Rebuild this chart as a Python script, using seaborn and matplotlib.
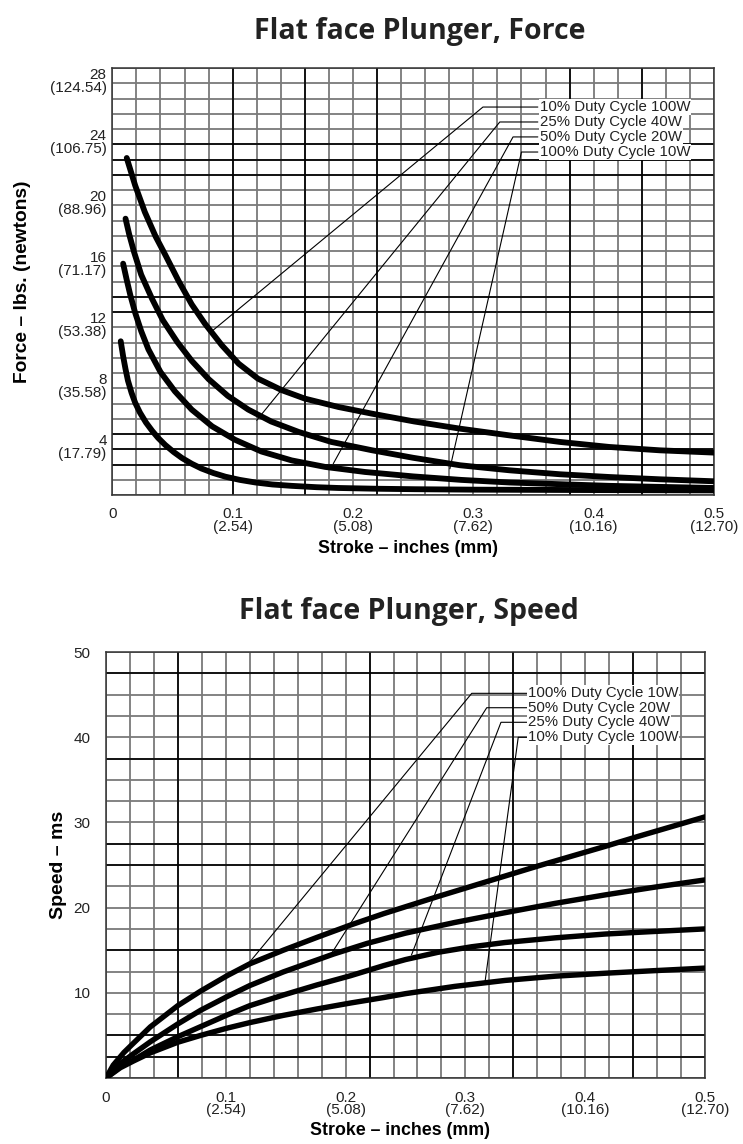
import pandas as pd
import seaborn as sns
import matplotlib.pyplot as plt
from matplotlib.ticker import MultipleLocator
from matplotlib.transforms import ScaledTranslation

sns.set_theme(style="white")
plt.rcParams["font.family"] = ["Liberation Sans", "DejaVu Sans"]

# --- Force chart data (stroke in inches, force in lbs) ---
force_labels = ["10% Duty Cycle 100W", "25% Duty Cycle 40W",
                "50% Duty Cycle 20W", "100% Duty Cycle 10W"]
force_x_100w = [0.012, 0.019, 0.027, 0.036, 0.044, 0.055, 0.066, 0.077, 0.091, 0.105,
                0.121, 0.141, 0.160, 0.188, 0.216, 0.251, 0.289, 0.330, 0.372, 0.413,
                0.455, 0.500]
force_y_100w = [22.1, 20.3, 18.56, 16.95, 15.75, 14.05, 12.5, 11.23, 9.82, 8.61,
                7.63, 6.87, 6.32, 5.77, 5.33, 4.82, 4.35, 3.91, 3.48, 3.15,
                2.93, 2.78]
force_x_40w = [0.011, 0.014, 0.018, 0.024, 0.033, 0.042, 0.054, 0.066, 0.080, 0.096,
               0.113, 0.132, 0.155, 0.182, 0.216, 0.250, 0.289, 0.330, 0.372, 0.413,
               0.455, 0.500]
force_y_40w = [18.12, 17.1, 15.95, 14.45, 12.87, 11.46, 10.03, 8.8, 7.6, 6.5,
               5.6, 4.82, 4.13, 3.48, 2.93, 2.44, 1.95, 1.62, 1.36, 1.18,
               1.03, 0.90]
force_x_20w = [0.009, 0.012, 0.015, 0.019, 0.024, 0.030, 0.040, 0.052, 0.066, 0.083,
               0.102, 0.124, 0.149, 0.177, 0.210, 0.250, 0.290, 0.330, 0.413, 0.500]
force_y_20w = [15.17, 14.1, 13.1, 11.95, 10.75, 9.55, 8.07, 6.8, 5.6, 4.5,
               3.62, 2.85, 2.27, 1.84, 1.51, 1.22, 0.99, 0.82, 0.6, 0.46]
force_x_10w = [0.007, 0.009, 0.011, 0.013, 0.016, 0.019, 0.023, 0.028, 0.033, 0.038,
               0.044, 0.051, 0.058, 0.066, 0.074, 0.084, 0.094, 0.106, 0.119, 0.133,
               0.149, 0.170, 0.188, 0.220, 0.251, 0.300, 0.413, 0.500]
force_y_10w = [10.08, 9.1, 8.25, 7.5, 6.7, 6.05, 5.4, 4.75, 4.22, 3.75,
               3.28, 2.82, 2.42, 2.05, 1.74, 1.44, 1.2, 0.99, 0.82, 0.69,
               0.6, 0.51, 0.46, 0.41, 0.38, 0.35, 0.32, 0.30]

# leader lines: label end -> elbow -> point on the chart
force_leader_x = [[0.3536, 0.308, 0.0826], [0.3536, 0.322, 0.120],
                  [0.3536, 0.333, 0.1836], [0.3536, 0.340, 0.2805]]
force_leader_y = [[25.44, 25.44, 10.73], [24.46, 24.46, 4.90],
                  [23.48, 23.48, 2.05], [22.49, 22.49, 1.72]]
force_label_x = 0.3552

# --- Speed chart data (stroke in inches, speed in ms) ---
speed_labels = ["100% Duty Cycle 10W", "50% Duty Cycle 20W",
                "25% Duty Cycle 40W", "10% Duty Cycle 100W"]
speed_x_10w = [0.0, 0.006, 0.015, 0.023, 0.037, 0.060, 0.079, 0.101, 0.120, 0.148,
               0.176, 0.204, 0.232, 0.250, 0.277, 0.305, 0.333, 0.361, 0.389, 0.417,
               0.444, 0.472, 0.500]
speed_y_10w = [0.0, 1.5, 3.0, 4.1, 6.0, 8.5, 10.2, 12.0, 13.4, 15.0,
               16.5, 17.95, 19.3, 20.1, 21.3, 22.5, 23.7, 24.9, 26.05, 27.2,
               28.35, 29.5, 30.65]
speed_x_20w = [0.0, 0.009, 0.023, 0.037, 0.060, 0.079, 0.101, 0.120, 0.148, 0.176,
               0.190, 0.218, 0.250, 0.291, 0.333, 0.375, 0.417, 0.458, 0.500]
speed_y_20w = [0.0, 1.4, 2.85, 4.25, 6.35, 7.95, 9.55, 10.85, 12.45, 13.85,
               14.55, 15.8, 17.0, 18.25, 19.4, 20.5, 21.5, 22.4, 23.25]
speed_x_40w = [0.0, 0.012, 0.023, 0.037, 0.060, 0.079, 0.101, 0.120, 0.148, 0.176,
               0.204, 0.232, 0.250, 0.277, 0.305, 0.333, 0.375, 0.417, 0.458, 0.500]
speed_y_40w = [0.0, 1.33, 2.11, 3.29, 4.85, 6.03, 7.39, 8.49, 9.74, 10.92,
               12.0, 13.2, 13.9, 14.75, 15.4, 15.9, 16.45, 16.9, 17.2, 17.5]
speed_x_100w = [0.0, 0.012, 0.023, 0.037, 0.060, 0.079, 0.101, 0.120, 0.148, 0.176,
                0.204, 0.232, 0.250, 0.291, 0.333, 0.375, 0.417, 0.458, 0.500]
speed_y_100w = [0.0, 1.21, 2.0, 2.95, 4.2, 5.0, 5.85, 6.5, 7.35, 8.1,
                8.8, 9.45, 9.9, 10.75, 11.45, 11.95, 12.3, 12.6, 12.9]

speed_leader_x = [[0.352, 0.3053, 0.1202], [0.352, 0.3178, 0.1884],
                  [0.352, 0.3297, 0.255], [0.352, 0.3441, 0.3164]]
speed_leader_y = [[45.15, 45.15, 13.65], [43.46, 43.46, 14.64],
                  [41.75, 41.75, 14.44], [39.99, 39.99, 11.3]]
speed_label_x = 0.3523

# --- Axis ticks ---
stroke_ticks = [0, 0.1, 0.2, 0.3, 0.4, 0.5]
stroke_ticklabels = ["0", "0.1\n(2.54)", "0.2\n(5.08)", "0.3\n(7.62)",
                     "0.4\n(10.16)", "0.5\n(12.70)"]
force_ticks = [4, 8, 12, 16, 20, 24, 28]
force_ticklabels = ["4\n(17.79)", "8\n(35.58)", "12\n(53.38)", "16\n(71.17)",
                    "20\n(88.96)", "24\n(106.75)", "28\n(124.54)"]
speed_ticks = [10, 20, 30, 40, 50]

# heavier ruling lines of the chart paper
force_heavy_x = [0.10, 0.16, 0.22, 0.38, 0.44]
force_heavy_y = [2, 3, 4, 12, 13, 21, 22, 23]
speed_heavy_x = [0.06, 0.22, 0.34, 0.44]
speed_heavy_y = [2.5, 5, 15, 25, 27.5, 37.5, 47.5]

force_df = pd.concat([
    pd.DataFrame({"stroke": force_x_100w, "value": force_y_100w, "series": force_labels[0]}),
    pd.DataFrame({"stroke": force_x_40w, "value": force_y_40w, "series": force_labels[1]}),
    pd.DataFrame({"stroke": force_x_20w, "value": force_y_20w, "series": force_labels[2]}),
    pd.DataFrame({"stroke": force_x_10w, "value": force_y_10w, "series": force_labels[3]}),
])
speed_df = pd.concat([
    pd.DataFrame({"stroke": speed_x_10w, "value": speed_y_10w, "series": speed_labels[0]}),
    pd.DataFrame({"stroke": speed_x_20w, "value": speed_y_20w, "series": speed_labels[1]}),
    pd.DataFrame({"stroke": speed_x_40w, "value": speed_y_40w, "series": speed_labels[2]}),
    pd.DataFrame({"stroke": speed_x_100w, "value": speed_y_100w, "series": speed_labels[3]}),
])

W, H = 743, 1144
fig = plt.figure(figsize=(W / 100, H / 100), dpi=100)
ax1 = fig.add_axes([112.3 / W, 1 - 495 / H, 601.7 / W, 427 / H])
ax2 = fig.add_axes([106 / W, 1 - 1078 / H, 599 / W, 426 / H])

title_font = dict(family=["Open Sans", "DejaVu Sans"], fontsize=20.5, fontweight="bold", color="#222222")
xlabel_font = dict(fontsize=12.8, fontweight="bold", color="black")


def style_axes(ax, ylim, ystep, heavy_x, heavy_y):
    ax.set_xlim(0, 0.5)
    ax.set_ylim(0, ylim)
    ax.xaxis.set_minor_locator(MultipleLocator(0.02))
    ax.yaxis.set_minor_locator(MultipleLocator(ystep))
    ax.grid(which="both", color="#7a7a7a", linewidth=1.3, zorder=0)
    ax.set_axisbelow(True)
    for xv in heavy_x:
        ax.axvline(xv, color="black", linewidth=1.2, zorder=1)
    for yv in heavy_y:
        ax.axhline(yv, color="black", linewidth=1.2, zorder=1)
    for s in ax.spines.values():
        s.set_color("#333333")
        s.set_linewidth(1.1)
    ax.tick_params(which="both", length=0, labelsize=11, colors="#222222")
    ax.set_xticks(stroke_ticks)
    ax.set_xticklabels(stroke_ticklabels, linespacing=0.9)
    ax.tick_params(axis="x", pad=9)


def draw_leaders(ax, lx, ly, labels, text_x):
    for xs, ys, lab in zip(lx, ly, labels):
        ax.plot(xs, ys, color="black", linewidth=0.8, zorder=3)
        ax.text(text_x, ys[0], lab, fontsize=10.8, color="#222222", va="center", ha="left",
                zorder=4, bbox=dict(facecolor="white", edgecolor="none", pad=0.6))


# --- Force chart ---
style_axes(ax1, 28, 1, force_heavy_x, force_heavy_y)
sns.lineplot(data=force_df, x="stroke", y="value", hue="series", units="series",
             estimator=None, sort=False, palette=["black"] * 4, linewidth=4.2,
             legend=False, ax=ax1, zorder=5, solid_joinstyle="round")
draw_leaders(ax1, force_leader_x, force_leader_y, force_labels, force_label_x)
ax1.set_yticks(force_ticks)
ax1.set_yticklabels(force_ticklabels, linespacing=0.9)
for lab in ax1.get_yticklabels():
    lab.set_verticalalignment("top")
    lab.set_transform(lab.get_transform() + ScaledTranslation(0, 6.5 / 72, fig.dpi_scale_trans))
ax1.tick_params(axis="y", pad=4)
ax1.set_title("Flat face Plunger, Force", pad=21, x=0.511, **title_font)
ax1.set_xlabel("Stroke – inches (mm)", **xlabel_font)
ax1.set_ylabel("Force – lbs. (newtons)", fontsize=13.8, fontweight="bold", color="black")
ax1.xaxis.set_label_coords(0.491, -0.106)
ax1.yaxis.set_label_coords(-0.135, 0.5)

# --- Speed chart ---
style_axes(ax2, 50, 2.5, speed_heavy_x, speed_heavy_y)
sns.lineplot(data=speed_df, x="stroke", y="value", hue="series", units="series",
             estimator=None, sort=False, palette=["black"] * 4, linewidth=3.9,
             legend=False, ax=ax2, zorder=5, solid_joinstyle="round")
draw_leaders(ax2, speed_leader_x, speed_leader_y, speed_labels, speed_label_x)
ax2.set_yticks(speed_ticks)
ax2.set_yticklabels([str(t) for t in speed_ticks])
ax2.tick_params(axis="y", pad=11)
ax2.set_title("Flat face Plunger, Speed", pad=24, x=0.506, **title_font)
ax2.set_xlabel("Stroke – inches (mm)", **xlabel_font)
ax2.set_ylabel("Speed – ms", fontsize=14, fontweight="bold", color="black")
ax2.xaxis.set_label_coords(0.49, -0.104)
ax2.yaxis.set_label_coords(-0.065, 0.5)

fig.savefig("out.png", dpi=100, facecolor="white")
